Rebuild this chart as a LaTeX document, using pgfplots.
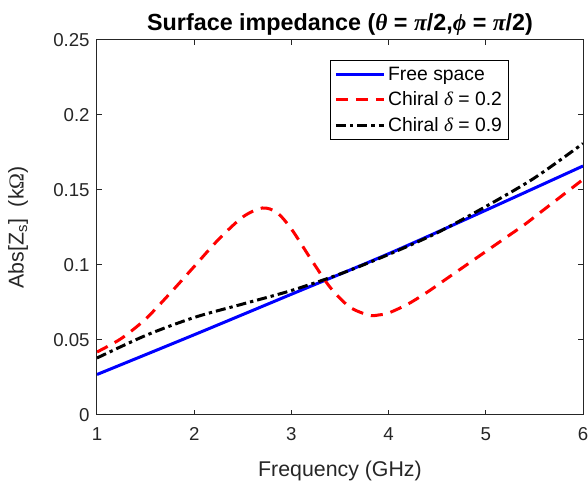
\documentclass[border=0pt]{standalone}
\usepackage{pgfplots}
\pgfplotsset{compat=1.18}
\usepackage{fontspec}
\setmainfont{Liberation Sans}
\newfontfamily\grk{Liberation Serif}
\definecolor{axgray}{RGB}{38,38,38}
\begin{document}
\begin{tikzpicture}
\begin{axis}[
  at={(0,0)}, anchor=south west,
  scale only axis,
  width=364.5pt, height=281.25pt,
  xmin=1, xmax=6, ymin=0, ymax=0.25,
  xtick={1,2,3,4,5,6},
  ytick={0,0.05,0.1,0.15,0.2,0.25},
  yticklabels={0,0.05,0.1,0.15,0.2,0.25},
  tick align=inside,
  tick pos=both,
  major tick length=3.75pt,
  axis line style={axgray, line width=0.75pt},
  every tick/.style={axgray, line width=0.75pt},
  tick label style={font=\fontsize{14}{16}\selectfont, text=axgray},
  xticklabel style={yshift=-6pt},
  yticklabel style={xshift=-2pt},
  /pgf/number format/assume math mode=true,
  xlabel={Frequency (GHz)},
  ylabel={Abs[Z\textsubscript{s}]~~(k{\grk Ω})},
  label style={font=\fontsize{16}{18}\selectfont, text=axgray},
  xlabel style={yshift=-8pt},
  ylabel style={yshift=12pt},
  title={\textbf{Surface impedance ({\grk\itshape θ} = {\grk\itshape π}/2,{\grk\itshape ϕ} = {\grk\itshape π}/2)}},
  title style={font=\fontsize{17.5}{19}\selectfont, yshift=-6pt},
  legend style={at={(0.4794,0.9467)}, anchor=north west, draw=black, line width=0.75pt,
    font=\fontsize{14.5}{16}\selectfont, row sep=3pt, inner sep=3pt},
  legend cell align=left,
  legend image code/.code={\draw[#1] (0pt,0pt) -- (36pt,0pt);},
]
\addplot[blue, line width=2.25pt, smooth] coordinates {
(1,0.027) (2,0.0535) (3,0.0805) (4,0.1075) (5,0.1365) (6,0.166)};
\addlegendentry{Free space}
\addplot[red, line width=2.25pt, smooth, dash pattern=on 9pt off 6pt] coordinates {
(1.0,0.042) (1.25,0.051) (1.5,0.064) (1.75,0.081) (2.0,0.099) (2.25,0.117)
(2.5,0.132) (2.7,0.138) (2.85,0.135) (3.0,0.124) (3.2,0.104) (3.4,0.085)
(3.6,0.072) (3.8,0.0665) (3.9,0.0667) (4.0,0.068) (4.2,0.074) (4.4,0.082)
(4.6,0.091) (4.8,0.100) (5.0,0.109) (5.2,0.118) (5.4,0.127) (5.6,0.137)
(5.8,0.147) (6.0,0.157)};
\addlegendentry{Chiral {\grk\itshape δ} = 0.2}
\addplot[black, line width=2.25pt, smooth, dash pattern=on 7.5pt off 3pt on 2.5pt off 3pt] coordinates {
(1,0.038) (1.5,0.053) (2,0.065) (2.5,0.074) (3,0.083) (3.5,0.094) (4,0.107)
(4.5,0.1215) (5,0.139) (5.5,0.158) (6,0.181)};
\addlegendentry{Chiral {\grk\itshape δ} = 0.9}
\end{axis}
\pgfresetboundingbox
\path (-72.75pt,-51.75pt) rectangle (368.25pt,311.25pt);
\end{tikzpicture}
\end{document}
